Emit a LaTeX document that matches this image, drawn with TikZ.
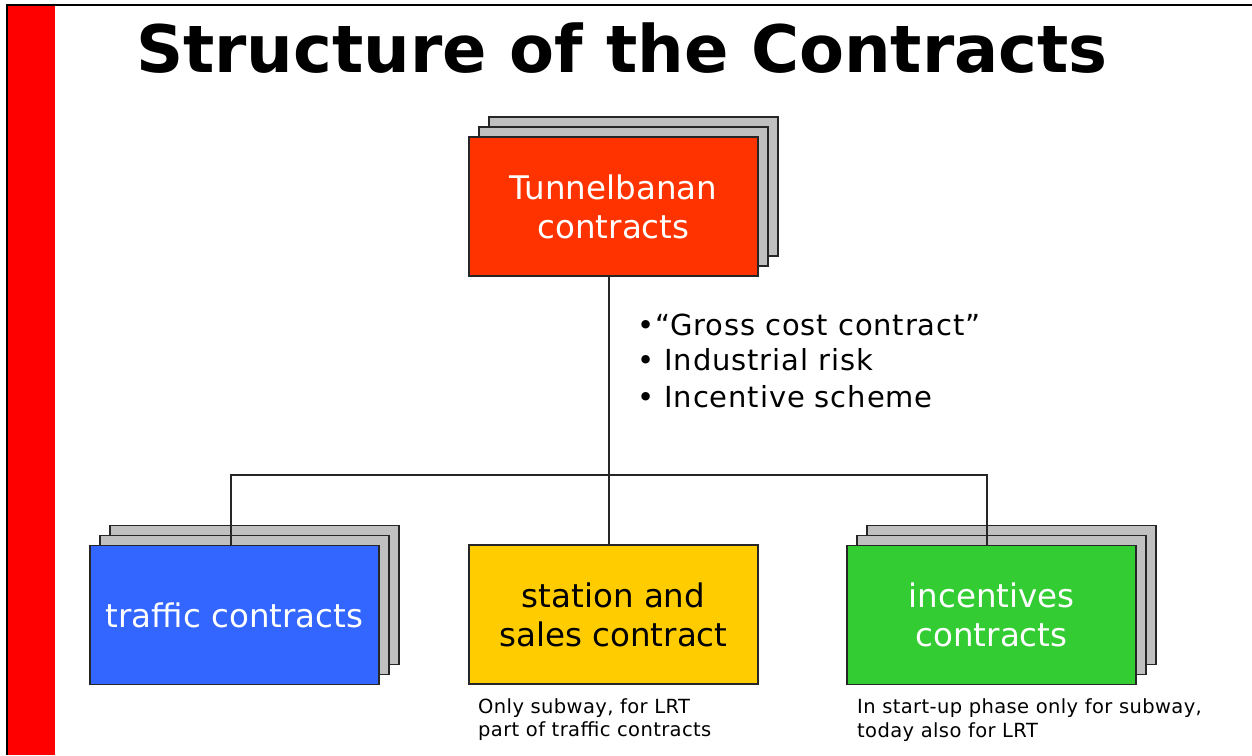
\documentclass[tikz,border=0pt]{standalone}
\usepackage{fontspec}
\setmainfont{DejaVu Sans}
\newfontfamily\bulletfont[LetterSpace=3]{DejaVu Sans}
\newfontfamily\notefont[LetterSpace=2]{DejaVu Sans}
\usetikzlibrary{calc}
\definecolor{tbred}{HTML}{FF3300}
\definecolor{tbblue}{HTML}{3366FF}
\definecolor{tbyellow}{HTML}{FFCC00}
\definecolor{tbgreen}{HTML}{33CC33}
\definecolor{shadowgray}{HTML}{C0C0C0}
\definecolor{barred}{HTML}{FF0000}
\begin{document}
\begin{tikzpicture}[x=1pt,y=-1pt,
  card/.style={draw=black!85, line width=1.6pt, minimum width=289pt, minimum height=139pt, inner sep=0pt, align=center},
  backcard/.style={card, fill=shadowgray},
  boxtext/.style={font=\fontsize{32.5}{39}\selectfont},
  conn/.style={draw=black!85, line width=1.4pt},
  bullet/.style={anchor=base west, inner sep=0pt, font=\bulletfont\fontsize{29}{36}\selectfont},
  note/.style={anchor=base west, inner sep=0pt, font=\notefont\fontsize{19.5}{24}\selectfont}]
\useasboundingbox (0,0) rectangle (1252,755);
\fill[white] (0,0) rectangle (1252,755);
% frame and red bar
\fill[barred] (8,6) rectangle (55,755);
\draw[black, line width=1.2pt] (7,755) -- (7,5) -- (1252,5);
% title
\node[anchor=base, inner sep=0pt, font=\fontsize{65.5}{70}\selectfont\bfseries] (title) at (622,72) {Structure of the Contracts};
% top stack
\node[backcard] (top3) at (633.5,186.5) {};
\node[backcard] (top2) at (623.5,196.5) {};
\node[card, fill=tbred, text=white, boxtext] (top) at (613.5,206.5) {Tunnelbanan\\contracts};
% left stack
\node[backcard] (left3) at (254.5,595) {};
\node[backcard] (left2) at (244.5,605) {};
\node[card, fill=tbblue, text=white, boxtext] (left) at (234.5,615) {traffic contracts};
% middle
\node[card, fill=tbyellow, text=black, boxtext] (mid) at (613.5,614.5) {station and\\sales contract};
% right stack
\node[backcard] (right3) at (1011.5,595) {};
\node[backcard] (right2) at (1001.5,605) {};
\node[card, fill=tbgreen, text=white, boxtext] (right) at (991.5,615) {incentives\\contracts};
% connectors
\coordinate (bar) at (609,475);
\draw[conn] ([xshift=-4.5pt]top.south) -- ([xshift=-4.5pt]mid.north);
\draw[conn] ([xshift=-3.5pt]left.north) |- (bar) -| ([xshift=-4.5pt]right.north);
% bullets
\node[bullet] (b1) at (637,335) {•“Gross cost contract”};
\node[bullet] (b2) at (637,370) {• Industrial risk};
\node[bullet] (b3) at (637,407) {• Incentive scheme};
% notes
\node[note] (n1a) at (478,713) {Only subway, for LRT};
\node[note] (n1b) at (478,736) {part of traffic contracts};
\node[note] (n2a) at (857,713) {In start-up phase only for subway,};
\node[note] (n2b) at (857,737) {today also for LRT};
\end{tikzpicture}
\end{document}
